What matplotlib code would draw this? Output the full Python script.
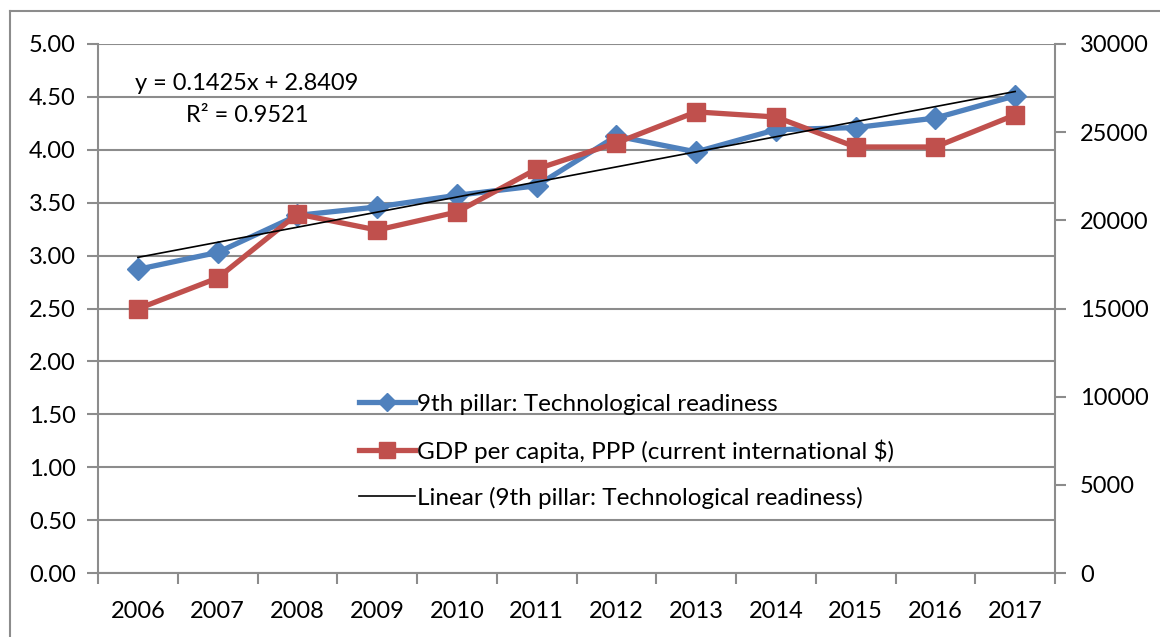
import numpy as np
import matplotlib
matplotlib.use("Agg")
import matplotlib.pyplot as plt
from matplotlib.lines import Line2D

years = ["2006", "2007", "2008", "2009", "2010", "2011", "2012", "2013", "2014", "2015", "2016", "2017"]
tech_readiness = [2.87, 3.03, 3.38, 3.46, 3.57, 3.66, 4.13, 3.98, 4.19, 4.21, 4.30, 4.51]
gdp_ppp = [14980, 16730, 20360, 19450, 20470, 22910, 24390, 26150, 25860, 24160, 24160, 25980]
trend_slope = 0.1425
trend_intercept = 2.8409
r_squared = 0.9521
left_ticks = [0.0, 0.5, 1.0, 1.5, 2.0, 2.5, 3.0, 3.5, 4.0, 4.5, 5.0]
right_ticks = [0, 5000, 10000, 15000, 20000, 25000, 30000]

label_tech = "9th pillar: Technological readiness"
label_gdp = "GDP per capita, PPP (current international $)"
label_trend = "Linear (9th pillar: Technological readiness)"

plt.rcParams['font.family'] = ['Lato', 'DejaVu Sans']
BLUE = "#4F81BD"
RED = "#C0504D"
GRID = "#8C8C8C"
FS = 17

fig = plt.figure(figsize=(11.6, 6.37), dpi=100)
ax = fig.add_axes([98/1160, 1-573/637, (1055-98)/1160, (573-44)/637])
ax2 = ax.twinx()

x = np.arange(len(years))
xn = x + 1

ax.plot(x, tech_readiness, color=BLUE, lw=3.8, marker="D", ms=11, zorder=3)
ax2.plot(x, gdp_ppp, color=RED, lw=3.8, marker="s", ms=13, zorder=3)
ax2.plot(x, trend_slope * xn + trend_intercept, color="black", lw=1.2, zorder=4,
         transform=ax.transData)

ax.set_xlim(-0.5, len(years) - 0.5)
ax.set_ylim(0, 5)
ax2.set_ylim(0, 30000)
ax.set_yticks(left_ticks)
ax.set_yticklabels([f"{v:.2f}" for v in left_ticks])
ax2.set_yticks(right_ticks)
ax2.set_yticklabels([str(v) for v in right_ticks])

ax.set_xticks(x)
ax.set_xticklabels(years)
ax.set_xticks(np.arange(-0.5, len(years)), minor=True)
ax.tick_params(axis="x", which="major", length=0, pad=20, labelsize=FS)
ax.tick_params(axis="x", which="minor", length=8, color=GRID, width=1.5, direction="out")
ax.tick_params(axis="y", length=8, color=GRID, width=1.5, pad=8, labelsize=FS)
ax2.tick_params(axis="y", length=8, color=GRID, width=1.5, pad=10, labelsize=FS)

ax.grid(axis="y", color=GRID, lw=1.5)
ax.set_axisbelow(True)
for a in (ax, ax2):
    a.spines["top"].set_visible(False)
    for s in ("left", "right", "bottom"):
        a.spines[s].set_color(GRID)
        a.spines[s].set_linewidth(1.5)
ax.spines["right"].set_visible(False)
ax2.spines["left"].set_visible(False)
ax2.spines["bottom"].set_visible(False)

ax.text(-0.04, 4.63, f"y = {trend_slope}x + {trend_intercept}", fontsize=FS, ha="left", va="center")
ax.text(0.6, 4.32, f"R² = {r_squared}", fontsize=FS, ha="left", va="center")

handles = [
    Line2D([], [], color=BLUE, lw=3.8, marker="D", ms=9),
    Line2D([], [], color=RED, lw=3.8, marker="s", ms=11),
    Line2D([], [], color="black", lw=1.2),
]
leg = ax2.legend(handles, [label_tech, label_gdp, label_trend], loc="upper left",
                 bbox_to_anchor=((349-98)/957, (573-384)/529), frameon=False,
                 fontsize=FS + 0.5, handlelength=2.3, handletextpad=0.1,
                 labelspacing=1.0, borderaxespad=0)

fig.add_artist(Line2D([10/1160, 10/1160], [0, 1-11/637], color=GRID, lw=1.5,
                      transform=fig.transFigure))
fig.add_artist(Line2D([10/1160, 1], [1-11/637, 1-11/637], color=GRID, lw=1.5,
                      transform=fig.transFigure))

fig.savefig("out.png", dpi=100)
